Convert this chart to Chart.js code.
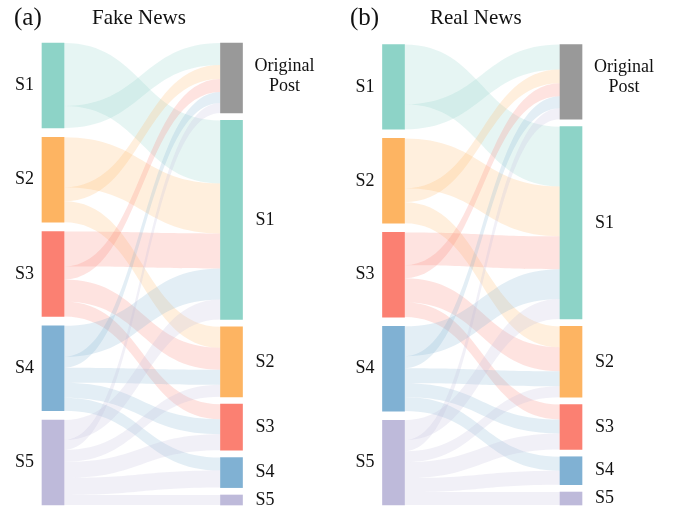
<!DOCTYPE html>
<html>
<head>
<meta charset="utf-8">
<script src="https://cdn.jsdelivr.net/npm/chart.js@4/dist/chart.umd.min.js"></script>
<style>
  html, body { margin: 0; padding: 0; background: #ffffff; }
  #wrap { position: relative; width: 675px; height: 507px; overflow: hidden; }
  canvas { position: absolute; top: 0; }
</style>
</head>
<body>
<div id="wrap">
  <canvas id="fake" width="337" height="507" style="left:0px;width:337px;height:507px"></canvas>
  <canvas id="real" width="338" height="507" style="left:337px;width:338px;height:507px"></canvas>
</div>
<script>
// ---------------- DATA ----------------
const panelTags = ['(a)', '(b)'];
const panelTitles = ['Fake News', 'Real News'];
const sourceLabels = ['S1', 'S2', 'S3', 'S4', 'S5'];
const targetLabels = ['Original Post', 'S1', 'S2', 'S3', 'S4', 'S5'];

// flow values from each source stage to targets [Original Post, S1, S2, S3, S4, S5]
const fakeFromS1 = [22, 63, 0, 0, 0, 0];
const fakeFromS2 = [14, 50, 21, 0, 0, 0];
const fakeFromS3 = [13, 35, 22, 15, 0, 0];
const fakeFromS4 = [11, 31, 15, 15, 13, 0];
const fakeFromS5 = [10, 20, 12, 16, 17, 10];

const realFromS1 = [25, 60, 0, 0, 0, 0];
const realFromS2 = [14, 50, 21, 0, 0, 0];
const realFromS3 = [13, 33, 24, 15, 0, 0];
const realFromS4 = [12, 30, 15, 14, 14, 0];
const realFromS5 = [11, 20, 11, 16, 14, 13];

// ---------------- STYLE ----------------
const sourceColors = ['#8dd3c7', '#fdb462', '#fb8072', '#80b1d3', '#bebada'];
const targetColors = ['#999999', '#8dd3c7', '#fdb462', '#fb8072', '#80b1d3', '#bebada'];
const FONT = '"Liberation Serif", "Times New Roman", serif';
const NODE_W = 22;
const RANGE = 462;
const linkOrder = [1, 0, 2, 3, 4, 5]; // order of outgoing links inside a source node

function hexToRgba(hex, a) {
  const n = parseInt(hex.slice(1), 16);
  return 'rgba(' + ((n >> 16) & 255) + ',' + ((n >> 8) & 255) + ',' + (n & 255) + ',' + a + ')';
}

function layoutColumn(values) {
  const total = values.reduce((s, v) => s + v, 0);
  const gap = (RANGE - total) / (values.length - 1);
  let y = 0;
  return values.map(v => { const n = { y0: y, y1: y + v }; y += v + gap; return n; });
}

function buildPanel(canvasId, flows, tag, title, pad, tagX, titleX) {
  const srcVals = flows.map(r => r.reduce((s, v) => s + v, 0));
  const tgtVals = targetLabels.map((_, j) => flows.reduce((s, r) => s + r[j], 0));
  const srcNodes = layoutColumn(srcVals);
  const tgtNodes = layoutColumn(tgtVals);

  // links
  const links = [];
  flows.forEach((row, i) => {
    let off = srcNodes[i].y0;
    linkOrder.forEach(j => {
      const v = row[j];
      if (v > 0) { links.push({ i, j, v, s0: off, s1: off + v }); off += v; }
    });
  });
  targetLabels.forEach((_, j) => {
    let off = tgtNodes[j].y0;
    flows.forEach((row, i) => {
      const v = row[j];
      if (v > 0) {
        const l = links.find(k => k.i === i && k.j === j);
        l.t0 = off; l.t1 = off + v; off += v;
      }
    });
  });

  const nodeData = [];
  const nodeCols = [];
  srcNodes.forEach((n, i) => { nodeData.push({ x: 0, y: [n.y0, n.y1] }); nodeCols.push(sourceColors[i]); });
  tgtNodes.forEach((n, j) => { nodeData.push({ x: 1, y: [n.y0, n.y1] }); nodeCols.push(targetColors[j]); });

  const flowPlugin = {
    id: 'flows',
    beforeDatasetsDraw(chart) {
      const ctx = chart.ctx;
      const xs = chart.scales.x, ys = chart.scales.y;
      const x0 = xs.getPixelForValue(0) + NODE_W / 2;
      const x1 = xs.getPixelForValue(1) - NODE_W / 2;
      const xm = (x0 + x1) / 2;
      ctx.save();
      links.forEach(l => {
        const a0 = ys.getPixelForValue(l.s0), a1 = ys.getPixelForValue(l.s1);
        const b0 = ys.getPixelForValue(l.t0), b1 = ys.getPixelForValue(l.t1);
        ctx.beginPath();
        ctx.moveTo(x0, a0);
        ctx.bezierCurveTo(xm, a0, xm, b0, x1, b0);
        ctx.lineTo(x1, b1);
        ctx.bezierCurveTo(xm, b1, xm, a1, x0, a1);
        ctx.closePath();
        ctx.fillStyle = hexToRgba(sourceColors[l.i], 0.22);
        ctx.fill();
      });
      ctx.restore();
    },
    afterDraw(chart) {
      const ctx = chart.ctx;
      const xs = chart.scales.x, ys = chart.scales.y;
      ctx.save();
      ctx.fillStyle = '#111111';
      // panel tag & title
      ctx.textBaseline = 'alphabetic';
      ctx.textAlign = 'left';
      ctx.font = '25px ' + FONT;
      ctx.fillText(tag, tagX, 25);
      ctx.font = '21px ' + FONT;
      ctx.fillText(title, titleX, 24);
      // node labels
      ctx.font = '18px ' + FONT;
      ctx.textBaseline = 'middle';
      const lx = xs.getPixelForValue(0) - NODE_W / 2 - 27;
      srcNodes.forEach((n, i) => {
        ctx.textAlign = 'left';
        ctx.fillText(sourceLabels[i], lx, ys.getPixelForValue((n.y0 + n.y1) / 2));
      });
      const rx = xs.getPixelForValue(1) + NODE_W / 2;
      tgtNodes.forEach((n, j) => {
        const lab = targetLabels[j];
        if (lab.indexOf(' ') > 0) {
          const parts = lab.split(' ');
          ctx.textAlign = 'center';
          const top = ys.getPixelForValue(n.y0);
          parts.forEach((p, k) => ctx.fillText(p, rx + 42, top + 23 + k * 20));
        } else {
          ctx.textAlign = 'left';
          ctx.fillText(lab, rx + 13, ys.getPixelForValue((n.y0 + n.y1) / 2));
        }
      });
      ctx.restore();
    }
  };

  return new Chart(document.getElementById(canvasId), {
    type: 'bar',
    data: {
      datasets: [{
        data: nodeData,
        backgroundColor: nodeCols,
        borderWidth: 0,
        barThickness: NODE_W,
        clip: false,
        grouped: false
      }]
    },
    options: {
      responsive: false,
      animation: false,
      devicePixelRatio: 1,
      layout: { padding: pad },
      scales: {
        x: { type: 'linear', min: 0, max: 1, offset: false, display: false },
        y: { type: 'linear', min: 0, max: RANGE, reverse: true, display: false }
      },
      plugins: { legend: { display: false }, tooltip: { enabled: false }, title: { display: false } }
    },
    plugins: [flowPlugin]
  });
}

buildPanel('fake', [fakeFromS1, fakeFromS2, fakeFromS3, fakeFromS4, fakeFromS5],
  panelTags[0], panelTitles[0], { left: 53, right: 105.5, top: 43, bottom: 2 }, 14, 92);
buildPanel('real', [realFromS1, realFromS2, realFromS3, realFromS4, realFromS5],
  panelTags[1], panelTitles[1], { left: 56.5, right: 104, top: 44.5, bottom: 2 }, 13, 93);
</script>
</body>
</html>
